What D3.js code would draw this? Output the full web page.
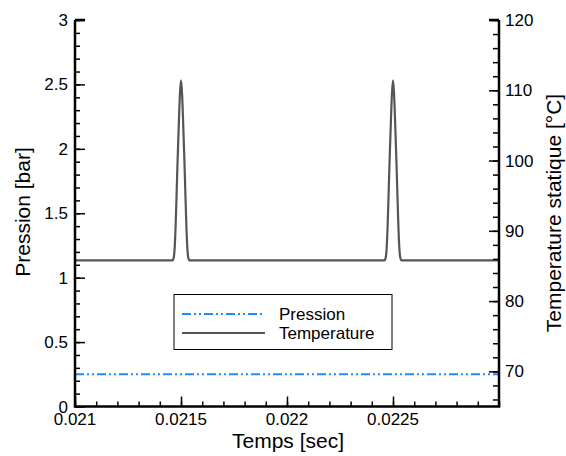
<!DOCTYPE html>
<html><head><meta charset="utf-8">
<script src="https://cdn.jsdelivr.net/npm/d3@7/dist/d3.min.js"></script>
<style>body{margin:0;background:#fff}svg{display:block}text{font-family:"Liberation Sans",Arial,sans-serif;fill:#000}</style>
</head><body><svg id="c" width="566" height="456"></svg>
<script>
// ---- data ----
const timeTicks = [0.021, 0.0215, 0.022, 0.0225];
const pressTicks = [0, 0.5, 1, 1.5, 2, 2.5, 3];
const tempTicks = [70, 80, 90, 100, 110, 120];
const pressTime = [0.021, 0.023];
const pressValue = [0.25, 0.25];
const tempTime = [0.021, 0.02146,
  0.021460, 0.021465, 0.021470, 0.021475, 0.021480, 0.021485, 0.021490, 0.021495,
  0.021500,
  0.021505, 0.021510, 0.021515, 0.021520, 0.021525, 0.021530, 0.021535, 0.021540,
  0.02196,
  0.022460, 0.022465, 0.022470, 0.022475, 0.022480, 0.022485, 0.022490, 0.022495,
  0.022500,
  0.022505, 0.022510, 0.022515, 0.022520, 0.022525, 0.022530, 0.022535, 0.022540,
  0.023];
const tempValue = [85.8, 85.8,
  85.8, 86.1, 87.5, 91, 96, 101, 105.5, 109.5,
  111.4,
  109.5, 105.5, 101, 96, 91, 87.5, 86.1, 85.8,
  85.8,
  85.8, 86.1, 87.5, 91, 96, 101, 105.5, 109.5,
  111.4,
  109.5, 105.5, 101, 96, 91, 87.5, 86.1, 85.8,
  85.8];
const legendLabels = ["Pression", "Temperature"];

// ---- layout ----
const L = 75, R = 499, T = 20, B = 406.5;
const svg = d3.select("#c");
const x = d3.scaleLinear().domain([0.021, 0.023]).range([L, R]);
const yP = d3.scaleLinear().domain([0, 3]).range([B, T]);
const yT = d3.scaleLinear().domain([65, 120]).range([B, T]);

// lines
const tData = tempTime.map((t, i) => [t, tempValue[i]]);
const pData = pressTime.map((t, i) => [t, pressValue[i]]);
svg.append("path").datum(pData)
  .attr("d", d3.line().x(d => x(d[0])).y(d => yP(d[1])))
  .attr("fill", "none").attr("stroke", "#1e8cff").attr("stroke-width", 2)
  .attr("stroke-dasharray", "9,3,2,3,2,3");
svg.append("path").datum(tData)
  .attr("d", d3.line().x(d => x(d[0])).y(d => yT(d[1])).curve(d3.curveMonotoneX))
  .attr("fill", "none").attr("stroke", "#555").attr("stroke-width", 2.2);

// axes
function minor(a, b, s) { const r = []; for (let v = a; v <= b + 1e-12; v += s) r.push(+v.toFixed(8)); return r; }
const fmt = d => String(+d.toPrecision(6));
const FS = 17;

// x axis
const gx = svg.append("g").attr("transform", `translate(0,${B})`);
gx.call(d3.axisTop(x).tickValues(minor(0.021, 0.023, 0.0001)).tickSize(5).tickFormat(""));
gx.selectAll(".domain").remove();
const gx2 = svg.append("g").attr("transform", `translate(0,${B})`);
gx2.call(d3.axisTop(x).tickValues(timeTicks).tickSize(10).tickFormat(""));
gx2.selectAll(".domain").remove();
timeTicks.forEach(v => svg.append("text").attr("x", x(v)).attr("y", B + 18)
  .attr("text-anchor", "middle").attr("font-size", FS).text(fmt(v)));

// left axis
const gl = svg.append("g").attr("transform", `translate(${L},0)`);
gl.call(d3.axisRight(yP).tickValues(minor(0, 3, 0.1)).tickSize(5).tickFormat(""));
gl.selectAll(".domain").remove();
const gl2 = svg.append("g").attr("transform", `translate(${L},0)`);
gl2.call(d3.axisRight(yP).tickValues(pressTicks).tickSize(10).tickFormat(""));
gl2.selectAll(".domain").remove();
pressTicks.forEach(v => svg.append("text").attr("x", L - 7).attr("y", yP(v) + 6)
  .attr("text-anchor", "end").attr("font-size", FS).text(fmt(v)));

// right axis
const gr = svg.append("g").attr("transform", `translate(${R},0)`);
gr.call(d3.axisLeft(yT).tickValues(minor(66, 120, 2)).tickSize(6).tickFormat(""));
gr.selectAll(".domain").remove();
const gr2 = svg.append("g").attr("transform", `translate(${R},0)`);
gr2.call(d3.axisLeft(yT).tickValues(tempTicks).tickSize(10).tickFormat(""));
gr2.selectAll(".domain").remove();
tempTicks.forEach(v => svg.append("text").attr("x", R + 6).attr("y", yT(v) + 6)
  .attr("text-anchor", "start").attr("font-size", FS).text(fmt(v)));

svg.selectAll(".tick line").attr("stroke", "#000").attr("stroke-width", 1.5);

// axis lines
svg.append("path").attr("d", `M${L},${T}V${B}H${R}V${T}`).attr("fill", "none")
  .attr("stroke", "#000").attr("stroke-width", 2.5);
svg.append("line").attr("x1", L).attr("x2", L + 10).attr("y1", T).attr("y2", T).attr("stroke", "#000").attr("stroke-width", 2.5);
svg.append("line").attr("x1", R - 10).attr("x2", R).attr("y1", T).attr("y2", T).attr("stroke", "#000").attr("stroke-width", 2.5);

// titles
svg.append("text").attr("x", 288).attr("y", 448).attr("text-anchor", "middle").attr("font-size", 21).text("Temps [sec]");
svg.append("text").attr("transform", "translate(30,212) rotate(-90)").attr("text-anchor", "middle").attr("font-size", 21).text("Pression [bar]");
svg.append("text").attr("transform", "translate(561,213) rotate(-90)").attr("text-anchor", "middle").attr("font-size", 21).text("Temperature statique [°C]");

// legend
svg.append("rect").attr("x", 174).attr("y", 294.5).attr("width", 218).attr("height", 55)
  .attr("fill", "#fff").attr("stroke", "#000").attr("stroke-width", 1);
const styles = [{c: "#1e8cff", d: "9,3,2,3,2,3"}, {c: "#555", d: null}];
legendLabels.forEach((lab, i) => {
  const yy = 314 + i * 19;
  svg.append("line").attr("x1", 182).attr("x2", 265).attr("y1", yy).attr("y2", yy)
    .attr("stroke", styles[i].c).attr("stroke-width", 2).attr("stroke-dasharray", styles[i].d);
  svg.append("text").attr("x", 279).attr("y", yy + 6).attr("font-size", FS).text(lab);
});
</script></body></html>
